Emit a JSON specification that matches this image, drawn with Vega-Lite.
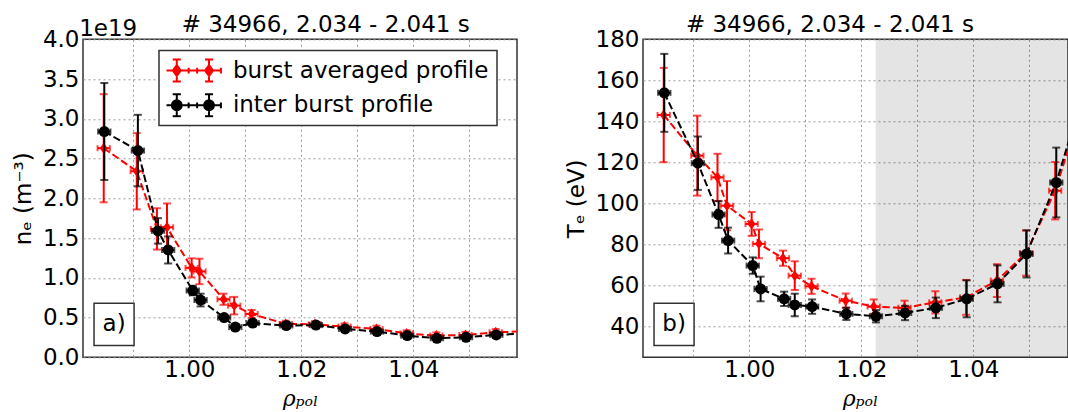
{
"$schema": "https://vega.github.io/schema/vega-lite/v6.json",
"padding": {"left": 11, "top": 13.3, "right": 0, "bottom": 0},
"autosize": {"type": "pad"},
"bounds": "flush",
"spacing": 126,
"config": {
  "view": {"stroke": "#333333", "strokeWidth": 1.5},
  "font": "DejaVu Sans",
  "axis": {"labelFontSize": 23, "labelFont": "DejaVu Sans", "labelColor": "black", "grid": true, "gridDash": [2, 3], "gridColor": "#999999", "gridWidth": 1, "ticks": false, "tickSize": 0, "domain": false, "labelOverlap": false, "labelFlush": false, "titleFontWeight": "normal", "titleColor": "black", "titleFontSize": 23, "titleFont": "DejaVu Sans", "labelPadding": 5},
  "legend": {"orient": "none", "legendX": 76, "legendY": 11.3, "strokeColor": "#333333", "fillColor": "white", "padding": 7.5, "symbolSize": 3364, "symbolStrokeWidth": 2, "symbolOpacity": 1, "symbolOffset": -3.6, "labelFontSize": 23, "labelFont": "DejaVu Sans", "labelColor": "black", "labelOffset": 10, "labelLimit": 400, "clipHeight": 25, "rowPadding": 9.7}
},
"datasets": {
  "ne": [
    {"rho": 0.9848, "series": "inter burst profile", "val": 2.84, "err": 0.61, "xerr": 0.0011},
    {"rho": 0.9908, "series": "inter burst profile", "val": 2.60, "err": 0.45, "xerr": 0.0011},
    {"rho": 0.9944, "series": "inter burst profile", "val": 1.59, "err": 0.16, "xerr": 0.0011},
    {"rho": 0.9962, "series": "inter burst profile", "val": 1.35, "err": 0.17, "xerr": 0.0011},
    {"rho": 1.0006, "series": "inter burst profile", "val": 0.84, "err": 0.06, "xerr": 0.0011},
    {"rho": 1.0020, "series": "inter burst profile", "val": 0.72, "err": 0.08, "xerr": 0.0011},
    {"rho": 1.0062, "series": "inter burst profile", "val": 0.50, "err": 0.03, "xerr": 0.0011},
    {"rho": 1.0082, "series": "inter burst profile", "val": 0.38, "err": 0.04, "xerr": 0.0011},
    {"rho": 1.0113, "series": "inter burst profile", "val": 0.43, "err": 0.04, "xerr": 0.0011},
    {"rho": 1.0173, "series": "inter burst profile", "val": 0.40, "err": 0.04, "xerr": 0.0011},
    {"rho": 1.0226, "series": "inter burst profile", "val": 0.405, "err": 0.04, "xerr": 0.0011},
    {"rho": 1.0278, "series": "inter burst profile", "val": 0.357, "err": 0.04, "xerr": 0.0011},
    {"rho": 1.0335, "series": "inter burst profile", "val": 0.323, "err": 0.04, "xerr": 0.0011},
    {"rho": 1.0389, "series": "inter burst profile", "val": 0.273, "err": 0.04, "xerr": 0.0011},
    {"rho": 1.0442, "series": "inter burst profile", "val": 0.239, "err": 0.04, "xerr": 0.0011},
    {"rho": 1.0494, "series": "inter burst profile", "val": 0.252, "err": 0.04, "xerr": 0.0011},
    {"rho": 1.0548, "series": "inter burst profile", "val": 0.282, "err": 0.04, "xerr": 0.0011},
    {"rho": 1.0600, "series": "inter burst profile", "val": 0.298, "err": 0.04, "xerr": 0.0011},
    {"rho": 0.9847, "series": "burst averaged profile", "val": 2.63, "err": 0.68, "xerr": 0.0011},
    {"rho": 0.9906, "series": "burst averaged profile", "val": 2.34, "err": 0.48, "xerr": 0.0011},
    {"rho": 0.9942, "series": "burst averaged profile", "val": 1.615, "err": 0.26, "xerr": 0.0011},
    {"rho": 0.9960, "series": "burst averaged profile", "val": 1.635, "err": 0.30, "xerr": 0.0011},
    {"rho": 1.0004, "series": "burst averaged profile", "val": 1.125, "err": 0.12, "xerr": 0.0011},
    {"rho": 1.0018, "series": "burst averaged profile", "val": 1.08, "err": 0.16, "xerr": 0.0011},
    {"rho": 1.0061, "series": "burst averaged profile", "val": 0.73, "err": 0.07, "xerr": 0.0011},
    {"rho": 1.0080, "series": "burst averaged profile", "val": 0.65, "err": 0.11, "xerr": 0.0011},
    {"rho": 1.0111, "series": "burst averaged profile", "val": 0.545, "err": 0.05, "xerr": 0.0011},
    {"rho": 1.0172, "series": "burst averaged profile", "val": 0.42, "err": 0.04, "xerr": 0.0011},
    {"rho": 1.0224, "series": "burst averaged profile", "val": 0.415, "err": 0.04, "xerr": 0.0011},
    {"rho": 1.0277, "series": "burst averaged profile", "val": 0.386, "err": 0.04, "xerr": 0.0011},
    {"rho": 1.0334, "series": "burst averaged profile", "val": 0.357, "err": 0.04, "xerr": 0.0011},
    {"rho": 1.0388, "series": "burst averaged profile", "val": 0.30, "err": 0.04, "xerr": 0.0011},
    {"rho": 1.0441, "series": "burst averaged profile", "val": 0.273, "err": 0.04, "xerr": 0.0011},
    {"rho": 1.0493, "series": "burst averaged profile", "val": 0.28, "err": 0.04, "xerr": 0.0011},
    {"rho": 1.0547, "series": "burst averaged profile", "val": 0.315, "err": 0.04, "xerr": 0.0011},
    {"rho": 1.0599, "series": "burst averaged profile", "val": 0.326, "err": 0.04, "xerr": 0.0011}
  ],
  "te": [
    {"rho": 0.9848, "series": "inter burst profile", "val": 153.9, "err": 19, "xerr": 0.0011},
    {"rho": 0.9908, "series": "inter burst profile", "val": 119.6, "err": 13, "xerr": 0.0011},
    {"rho": 0.9945, "series": "inter burst profile", "val": 94.6, "err": 6.5, "xerr": 0.0011},
    {"rho": 0.9962, "series": "inter burst profile", "val": 81.9, "err": 6.3, "xerr": 0.0011},
    {"rho": 1.0006, "series": "inter burst profile", "val": 69.7, "err": 4, "xerr": 0.0011},
    {"rho": 1.0020, "series": "inter burst profile", "val": 58.3, "err": 6, "xerr": 0.0011},
    {"rho": 1.0062, "series": "inter burst profile", "val": 53.5, "err": 3.5, "xerr": 0.0011},
    {"rho": 1.0081, "series": "inter burst profile", "val": 50.5, "err": 5.5, "xerr": 0.0011},
    {"rho": 1.0112, "series": "inter burst profile", "val": 49.7, "err": 3.5, "xerr": 0.0011},
    {"rho": 1.0173, "series": "inter burst profile", "val": 46.2, "err": 3, "xerr": 0.0011},
    {"rho": 1.0226, "series": "inter burst profile", "val": 45.0, "err": 3, "xerr": 0.0011},
    {"rho": 1.0278, "series": "inter burst profile", "val": 46.6, "err": 3.5, "xerr": 0.0011},
    {"rho": 1.0333, "series": "inter burst profile", "val": 49.1, "err": 5, "xerr": 0.0011},
    {"rho": 1.0388, "series": "inter burst profile", "val": 53.5, "err": 9, "xerr": 0.0011},
    {"rho": 1.0443, "series": "inter burst profile", "val": 60.8, "err": 9, "xerr": 0.0011},
    {"rho": 1.0495, "series": "inter burst profile", "val": 75.4, "err": 11.5, "xerr": 0.0011},
    {"rho": 1.0548, "series": "inter burst profile", "val": 110.2, "err": 17, "xerr": 0.0011},
    {"rho": 1.0600, "series": "inter burst profile", "val": 157, "err": 17, "xerr": 0.0011},
    {"rho": 0.9847, "series": "burst averaged profile", "val": 143.1, "err": 23, "xerr": 0.0011},
    {"rho": 0.9907, "series": "burst averaged profile", "val": 123.3, "err": 19.5, "xerr": 0.0011},
    {"rho": 0.9943, "series": "burst averaged profile", "val": 112.7, "err": 11.5, "xerr": 0.0011},
    {"rho": 0.9960, "series": "burst averaged profile", "val": 98.9, "err": 12, "xerr": 0.0011},
    {"rho": 1.0004, "series": "burst averaged profile", "val": 90.0, "err": 5.8, "xerr": 0.0011},
    {"rho": 1.0017, "series": "burst averaged profile", "val": 80.3, "err": 7, "xerr": 0.0011},
    {"rho": 1.0060, "series": "burst averaged profile", "val": 73.3, "err": 3.7, "xerr": 0.0011},
    {"rho": 1.0081, "series": "burst averaged profile", "val": 64.8, "err": 7, "xerr": 0.0011},
    {"rho": 1.0111, "series": "burst averaged profile", "val": 59.6, "err": 3.7, "xerr": 0.0011},
    {"rho": 1.0172, "series": "burst averaged profile", "val": 52.6, "err": 3.5, "xerr": 0.0011},
    {"rho": 1.0222, "series": "burst averaged profile", "val": 49.7, "err": 3.5, "xerr": 0.0011},
    {"rho": 1.0277, "series": "burst averaged profile", "val": 49.1, "err": 3.5, "xerr": 0.0011},
    {"rho": 1.0332, "series": "burst averaged profile", "val": 51.8, "err": 5.4, "xerr": 0.0011},
    {"rho": 1.0387, "series": "burst averaged profile", "val": 54.2, "err": 8.5, "xerr": 0.0011},
    {"rho": 1.0442, "series": "burst averaged profile", "val": 62.4, "err": 8, "xerr": 0.0011},
    {"rho": 1.0494, "series": "burst averaged profile", "val": 75.8, "err": 11, "xerr": 0.0011},
    {"rho": 1.0546, "series": "burst averaged profile", "val": 106.2, "err": 14, "xerr": 0.0011},
    {"rho": 1.0599, "series": "burst averaged profile", "val": 152, "err": 14, "xerr": 0.0011}
  ]
},
"hconcat": [
{
  "width": 434, "height": 318,
  "layer": [
    {
      "data": {"name": "ne"},
      "encoding": {
        "x": {"field": "rho", "type": "quantitative", "title": "ρₚₒₗ", "scale": {"domain": [0.981, 1.0585], "nice": false, "zero": false},
              "axis": {"values": [0.99, 1.0, 1.01, 1.02, 1.03, 1.04, 1.05], "labelExpr": "round(datum.value*100) % 2 == 0 ? format(datum.value, '.2f') : ''", "title": "ρₚₒₗ", "titleFont": "DejaVu Serif", "titleFontStyle": "italic", "titleFontSize": 22, "titlePadding": 7, "labelPadding": 1}},
        "y": {"field": "val", "type": "quantitative", "title": "nₑ (m⁻³)", "scale": {"domain": [0, 4.0], "nice": false, "zero": false},
              "axis": {"values": [0, 0.5, 1.0, 1.5, 2.0, 2.5, 3.0, 3.5, 4.0], "format": ".1f", "title": "nₑ (m⁻³)", "titlePadding": 7, "labelPadding": 4}}
      },
      "layer": [
        {"transform": [{"filter": "datum.series == 'burst averaged profile'"}],
         "mark": {"type": "line", "color": "#ff0000", "strokeWidth": 2, "strokeDash": [7.4, 3.2], "clip": true}},
        {"transform": [{"filter": "datum.series == 'burst averaged profile' && datum.rho < 1.057"}],
         "mark": {"type": "errorbar", "color": "#ff0000", "thickness": 2, "size": 8, "ticks": true},
         "encoding": {"yError": {"field": "err"}}},
        {"transform": [{"filter": "datum.series == 'burst averaged profile' && datum.rho < 1.057"}],
         "mark": {"type": "errorbar", "color": "#ff0000", "thickness": 2, "size": 6, "ticks": true},
         "encoding": {"xError": {"field": "xerr"}}},
        {"transform": [{"filter": "datum.series == 'burst averaged profile' && datum.rho < 1.057"}],
         "mark": {"type": "point", "shape": "M0,-1L0.72,0L0,1L-0.72,0Z", "filled": true, "color": "#ff0000", "size": 121, "opacity": 1}},
        {"transform": [{"filter": "datum.series == 'inter burst profile'"}],
         "mark": {"type": "line", "color": "#000000", "strokeWidth": 2, "strokeDash": [7.4, 3.2], "clip": true}},
        {"transform": [{"filter": "datum.series == 'inter burst profile' && datum.rho < 1.057"}],
         "mark": {"type": "errorbar", "color": "#000000", "thickness": 2, "size": 8, "ticks": true},
         "encoding": {"yError": {"field": "err"}}},
        {"transform": [{"filter": "datum.series == 'inter burst profile' && datum.rho < 1.057"}],
         "mark": {"type": "errorbar", "color": "#000000", "thickness": 2, "size": 6, "ticks": true},
         "encoding": {"xError": {"field": "xerr"}}},
        {"transform": [{"filter": "datum.series == 'inter burst profile' && datum.rho < 1.057"}],
         "mark": {"type": "point", "shape": "circle", "filled": true, "color": "#000000", "size": 121, "opacity": 1}},
        {"transform": [{"filter": "datum.rho < 1.057"}],
         "mark": {"type": "point", "filled": true, "opacity": 0},
         "encoding": {
           "color": {"field": "series", "type": "nominal", "scale": {"domain": ["burst averaged profile", "inter burst profile"], "range": ["#ff0000", "#000000"]},
             "legend": {"title": null,
               "encode": {"symbols": {"update": {"stroke": {"signal": "datum.value == 'inter burst profile' ? '#000000' : '#ff0000'"}, "strokeWidth": {"value": 2}, "opacity": {"value": 1}}}, "legend": {"update": {"strokeWidth": {"value": 1.5}}}}}},
           "shape": {"field": "series", "type": "nominal", "scale": {"domain": ["burst averaged profile", "inter burst profile"], "range": [
             "M-1,0L1,0M-0.556,-0.38L-0.556,0.38M0.556,-0.38L0.556,0.38M-0.696,-0.38L-0.416,-0.38M-0.696,0.38L-0.416,0.38M0.416,-0.38L0.696,-0.38M0.416,0.38L0.696,0.38M-0.966,-0.1L-0.966,0.1M-0.146,-0.1L-0.146,0.1M0.146,-0.1L0.146,0.1M0.966,-0.1L0.966,0.1M-0.556,-0.19L-0.419,0L-0.556,0.19L-0.693,0ZM0.556,-0.19L0.693,0L0.556,0.19L0.419,0Z",
             "M-1,0L1,0M-0.556,-0.38L-0.556,0.38M0.556,-0.38L0.556,0.38M-0.696,-0.38L-0.416,-0.38M-0.696,0.38L-0.416,0.38M0.416,-0.38L0.696,-0.38M0.416,0.38L0.696,0.38M-0.966,-0.1L-0.966,0.1M-0.146,-0.1L-0.146,0.1M0.146,-0.1L0.146,0.1M0.966,-0.1L0.966,0.1M-0.386,0A0.17,0.17,0,1,1,-0.726,0A0.17,0.17,0,1,1,-0.386,0ZM0.726,0A0.17,0.17,0,1,1,0.386,0A0.17,0.17,0,1,1,0.726,0Z"]},
             "legend": {"title": null,
               "encode": {"symbols": {"update": {"stroke": {"signal": "datum.value == 'inter burst profile' ? '#000000' : '#ff0000'"}, "strokeWidth": {"value": 2}, "opacity": {"value": 1}}}, "legend": {"update": {"strokeWidth": {"value": 1.5}}}}}}
         }}
      ]
    },
    {"data": {"values": [{"label": "a)"}]},
     "mark": {"type": "rect", "fill": "white", "stroke": "#333333", "strokeWidth": 1.5},
     "encoding": {
       "x": {"datum": 0.98297, "type": "quantitative", "title": "ρₚₒₗ", "axis": {"values": [0.99, 1.0, 1.01, 1.02, 1.03, 1.04, 1.05], "labelExpr": "round(datum.value*100) % 2 == 0 ? format(datum.value, '.2f') : ''", "title": "ρₚₒₗ", "titleFont": "DejaVu Serif", "titleFontStyle": "italic", "titleFontSize": 22, "titlePadding": 7, "labelPadding": 1}},
       "x2": {"datum": 0.99012},
       "y": {"datum": 0.147, "type": "quantitative", "title": "nₑ (m⁻³)", "axis": {"values": [0, 0.5, 1.0, 1.5, 2.0, 2.5, 3.0, 3.5, 4.0], "format": ".1f", "title": "nₑ (m⁻³)", "titlePadding": 7, "labelPadding": 4}},
       "y2": {"datum": 0.679}}},
    {"data": {"values": [{"label": "a)"}]},
     "mark": {"type": "text", "fontSize": 23, "font": "DejaVu Sans", "color": "black", "align": "center", "baseline": "middle"},
     "encoding": {
       "x": {"datum": 0.98655, "type": "quantitative", "title": "ρₚₒₗ", "axis": {"values": [0.99, 1.0, 1.01, 1.02, 1.03, 1.04, 1.05], "labelExpr": "round(datum.value*100) % 2 == 0 ? format(datum.value, '.2f') : ''", "title": "ρₚₒₗ", "titleFont": "DejaVu Serif", "titleFontStyle": "italic", "titleFontSize": 22, "titlePadding": 7, "labelPadding": 1}},
       "y": {"datum": 0.414, "type": "quantitative", "title": "nₑ (m⁻³)", "axis": {"values": [0, 0.5, 1.0, 1.5, 2.0, 2.5, 3.0, 3.5, 4.0], "format": ".1f", "title": "nₑ (m⁻³)", "titlePadding": 7, "labelPadding": 4}},
       "text": {"field": "label"}}},
    {"data": {"values": [{"label": "1e19"}]},
     "mark": {"type": "text", "fontSize": 23, "font": "DejaVu Sans", "color": "black", "align": "left", "baseline": "alphabetic", "dx": -3.8, "dy": -3.7},
     "encoding": {
       "x": {"datum": 0.981, "type": "quantitative", "title": "ρₚₒₗ", "axis": {"values": [0.99, 1.0, 1.01, 1.02, 1.03, 1.04, 1.05], "labelExpr": "round(datum.value*100) % 2 == 0 ? format(datum.value, '.2f') : ''", "title": "ρₚₒₗ", "titleFont": "DejaVu Serif", "titleFontStyle": "italic", "titleFontSize": 22, "titlePadding": 7, "labelPadding": 1}},
       "y": {"datum": 4.0, "type": "quantitative", "title": "nₑ (m⁻³)", "axis": {"values": [0, 0.5, 1.0, 1.5, 2.0, 2.5, 3.0, 3.5, 4.0], "format": ".1f", "title": "nₑ (m⁻³)", "titlePadding": 7, "labelPadding": 4}},
       "text": {"field": "label"}}},
    {"data": {"values": [{"label": "# 34966, 2.034 - 2.041 s"}]},
     "mark": {"type": "text", "fontSize": 23, "font": "DejaVu Sans", "color": "black", "align": "center", "baseline": "alphabetic", "dy": -7},
     "encoding": {
       "x": {"datum": 1.02434, "type": "quantitative", "title": "ρₚₒₗ", "axis": {"values": [0.99, 1.0, 1.01, 1.02, 1.03, 1.04, 1.05], "labelExpr": "round(datum.value*100) % 2 == 0 ? format(datum.value, '.2f') : ''", "title": "ρₚₒₗ", "titleFont": "DejaVu Serif", "titleFontStyle": "italic", "titleFontSize": 22, "titlePadding": 7, "labelPadding": 1}},
       "y": {"datum": 4.0, "type": "quantitative", "title": "nₑ (m⁻³)", "axis": {"values": [0, 0.5, 1.0, 1.5, 2.0, 2.5, 3.0, 3.5, 4.0], "format": ".1f", "title": "nₑ (m⁻³)", "titlePadding": 7, "labelPadding": 4}},
       "text": {"field": "label"}}}
  ]
},
{
  "width": 425, "height": 318,
  "layer": [
    {"data": {"values": [{"label": "shade"}]},
     "mark": {"type": "rect", "color": "#000000", "opacity": 0.105, "clip": true},
     "encoding": {
       "x": {"datum": 1.02255, "type": "quantitative", "title": "ρₚₒₗ", "axis": {"values": [0.99, 1.0, 1.01, 1.02, 1.03, 1.04, 1.05], "labelExpr": "round(datum.value*100) % 2 == 0 ? format(datum.value, '.2f') : ''", "title": "ρₚₒₗ", "titleFont": "DejaVu Serif", "titleFontStyle": "italic", "titleFontSize": 22, "titlePadding": 7, "labelPadding": 1, "titleX": 217}},
       "x2": {"datum": 1.08},
       "y": {"datum": 25, "type": "quantitative", "title": "Tₑ (eV)", "axis": {"values": [40, 60, 80, 100, 120, 140, 160, 180], "format": "d", "title": "Tₑ (eV)", "titlePadding": 7, "labelPadding": 4}},
       "y2": {"datum": 180}}},
    {
      "data": {"name": "te"},
      "encoding": {
        "x": {"field": "rho", "type": "quantitative", "title": "ρₚₒₗ", "scale": {"domain": [0.981, 1.056893], "nice": false, "zero": false},
              "axis": {"values": [0.99, 1.0, 1.01, 1.02, 1.03, 1.04, 1.05], "labelExpr": "round(datum.value*100) % 2 == 0 ? format(datum.value, '.2f') : ''", "title": "ρₚₒₗ", "titleFont": "DejaVu Serif", "titleFontStyle": "italic", "titleFontSize": 22, "titlePadding": 7, "labelPadding": 1, "titleX": 217}},
        "y": {"field": "val", "type": "quantitative", "title": "Tₑ (eV)", "scale": {"domain": [25, 180], "nice": false, "zero": false},
              "axis": {"values": [40, 60, 80, 100, 120, 140, 160, 180], "format": "d", "title": "Tₑ (eV)", "titlePadding": 7, "labelPadding": 4}}
      },
      "layer": [
        {"transform": [{"filter": "datum.series == 'burst averaged profile'"}],
         "mark": {"type": "line", "color": "#ff0000", "strokeWidth": 2, "strokeDash": [7.4, 3.2], "clip": true}},
        {"transform": [{"filter": "datum.series == 'burst averaged profile' && datum.rho < 1.057"}],
         "mark": {"type": "errorbar", "color": "#ff0000", "thickness": 2, "size": 8, "ticks": true},
         "encoding": {"yError": {"field": "err"}}},
        {"transform": [{"filter": "datum.series == 'burst averaged profile' && datum.rho < 1.057"}],
         "mark": {"type": "errorbar", "color": "#ff0000", "thickness": 2, "size": 6, "ticks": true},
         "encoding": {"xError": {"field": "xerr"}}},
        {"transform": [{"filter": "datum.series == 'burst averaged profile' && datum.rho < 1.057"}],
         "mark": {"type": "point", "shape": "M0,-1L0.72,0L0,1L-0.72,0Z", "filled": true, "color": "#ff0000", "size": 121, "opacity": 1}},
        {"transform": [{"filter": "datum.series == 'inter burst profile'"}],
         "mark": {"type": "line", "color": "#000000", "strokeWidth": 2, "strokeDash": [7.4, 3.2], "clip": true}},
        {"transform": [{"filter": "datum.series == 'inter burst profile' && datum.rho < 1.057"}],
         "mark": {"type": "errorbar", "color": "#000000", "thickness": 2, "size": 8, "ticks": true},
         "encoding": {"yError": {"field": "err"}}},
        {"transform": [{"filter": "datum.series == 'inter burst profile' && datum.rho < 1.057"}],
         "mark": {"type": "errorbar", "color": "#000000", "thickness": 2, "size": 6, "ticks": true},
         "encoding": {"xError": {"field": "xerr"}}},
        {"transform": [{"filter": "datum.series == 'inter burst profile' && datum.rho < 1.057"}],
         "mark": {"type": "point", "shape": "circle", "filled": true, "color": "#000000", "size": 121, "opacity": 1}},
        {"transform": [{"filter": "datum.rho < 1.057"}],
         "mark": {"type": "point", "filled": true, "opacity": 0},
         "encoding": {
           "color": {"field": "series", "type": "nominal", "scale": {"domain": ["burst averaged profile", "inter burst profile"], "range": ["#ff0000", "#000000"]},
             "legend": {"title": null,
               "encode": {"symbols": {"update": {"stroke": {"signal": "datum.value == 'inter burst profile' ? '#000000' : '#ff0000'"}, "strokeWidth": {"value": 2}, "opacity": {"value": 1}}}, "legend": {"update": {"strokeWidth": {"value": 1.5}}}}}},
           "shape": {"field": "series", "type": "nominal", "scale": {"domain": ["burst averaged profile", "inter burst profile"], "range": [
             "M-1,0L1,0M-0.556,-0.38L-0.556,0.38M0.556,-0.38L0.556,0.38M-0.696,-0.38L-0.416,-0.38M-0.696,0.38L-0.416,0.38M0.416,-0.38L0.696,-0.38M0.416,0.38L0.696,0.38M-0.966,-0.1L-0.966,0.1M-0.146,-0.1L-0.146,0.1M0.146,-0.1L0.146,0.1M0.966,-0.1L0.966,0.1M-0.556,-0.19L-0.419,0L-0.556,0.19L-0.693,0ZM0.556,-0.19L0.693,0L0.556,0.19L0.419,0Z",
             "M-1,0L1,0M-0.556,-0.38L-0.556,0.38M0.556,-0.38L0.556,0.38M-0.696,-0.38L-0.416,-0.38M-0.696,0.38L-0.416,0.38M0.416,-0.38L0.696,-0.38M0.416,0.38L0.696,0.38M-0.966,-0.1L-0.966,0.1M-0.146,-0.1L-0.146,0.1M0.146,-0.1L0.146,0.1M0.966,-0.1L0.966,0.1M-0.386,0A0.17,0.17,0,1,1,-0.726,0A0.17,0.17,0,1,1,-0.386,0ZM0.726,0A0.17,0.17,0,1,1,0.386,0A0.17,0.17,0,1,1,0.726,0Z"]},
             "legend": {"title": null,
               "encode": {"symbols": {"update": {"stroke": {"signal": "datum.value == 'inter burst profile' ? '#000000' : '#ff0000'"}, "strokeWidth": {"value": 2}, "opacity": {"value": 1}}}, "legend": {"update": {"strokeWidth": {"value": 1.5}}}}}}
         }}
      ]
    },
    {"data": {"values": [{"label": "b)"}]},
     "mark": {"type": "rect", "fill": "white", "stroke": "#333333", "strokeWidth": 1.5},
     "encoding": {
       "x": {"datum": 0.98297, "type": "quantitative", "title": "ρₚₒₗ", "axis": {"values": [0.99, 1.0, 1.01, 1.02, 1.03, 1.04, 1.05], "labelExpr": "round(datum.value*100) % 2 == 0 ? format(datum.value, '.2f') : ''", "title": "ρₚₒₗ", "titleFont": "DejaVu Serif", "titleFontStyle": "italic", "titleFontSize": 22, "titlePadding": 7, "labelPadding": 1, "titleX": 217}},
       "x2": {"datum": 0.99012},
       "y": {"datum": 30.7, "type": "quantitative", "title": "Tₑ (eV)", "axis": {"values": [40, 60, 80, 100, 120, 140, 160, 180], "format": "d", "title": "Tₑ (eV)", "titlePadding": 7, "labelPadding": 4}},
       "y2": {"datum": 51.3}}},
    {"data": {"values": [{"label": "b)"}]},
     "mark": {"type": "text", "fontSize": 23, "font": "DejaVu Sans", "color": "black", "align": "center", "baseline": "middle"},
     "encoding": {
       "x": {"datum": 0.98655, "type": "quantitative", "title": "ρₚₒₗ", "axis": {"values": [0.99, 1.0, 1.01, 1.02, 1.03, 1.04, 1.05], "labelExpr": "round(datum.value*100) % 2 == 0 ? format(datum.value, '.2f') : ''", "title": "ρₚₒₗ", "titleFont": "DejaVu Serif", "titleFontStyle": "italic", "titleFontSize": 22, "titlePadding": 7, "labelPadding": 1, "titleX": 217}},
       "y": {"datum": 41.0, "type": "quantitative", "title": "Tₑ (eV)", "axis": {"values": [40, 60, 80, 100, 120, 140, 160, 180], "format": "d", "title": "Tₑ (eV)", "titlePadding": 7, "labelPadding": 4}},
       "text": {"field": "label"}}},
    {"data": {"values": [{"label": "# 34966, 2.034 - 2.041 s"}]},
     "mark": {"type": "text", "fontSize": 23, "font": "DejaVu Sans", "color": "black", "align": "center", "baseline": "alphabetic", "dy": -7},
     "encoding": {
       "x": {"datum": 1.01438, "type": "quantitative", "title": "ρₚₒₗ", "axis": {"values": [0.99, 1.0, 1.01, 1.02, 1.03, 1.04, 1.05], "labelExpr": "round(datum.value*100) % 2 == 0 ? format(datum.value, '.2f') : ''", "title": "ρₚₒₗ", "titleFont": "DejaVu Serif", "titleFontStyle": "italic", "titleFontSize": 22, "titlePadding": 7, "labelPadding": 1, "titleX": 217}},
       "y": {"datum": 180, "type": "quantitative", "title": "Tₑ (eV)", "axis": {"values": [40, 60, 80, 100, 120, 140, 160, 180], "format": "d", "title": "Tₑ (eV)", "titlePadding": 7, "labelPadding": 4}},
       "text": {"field": "label"}}}
  ]
}
]
}
